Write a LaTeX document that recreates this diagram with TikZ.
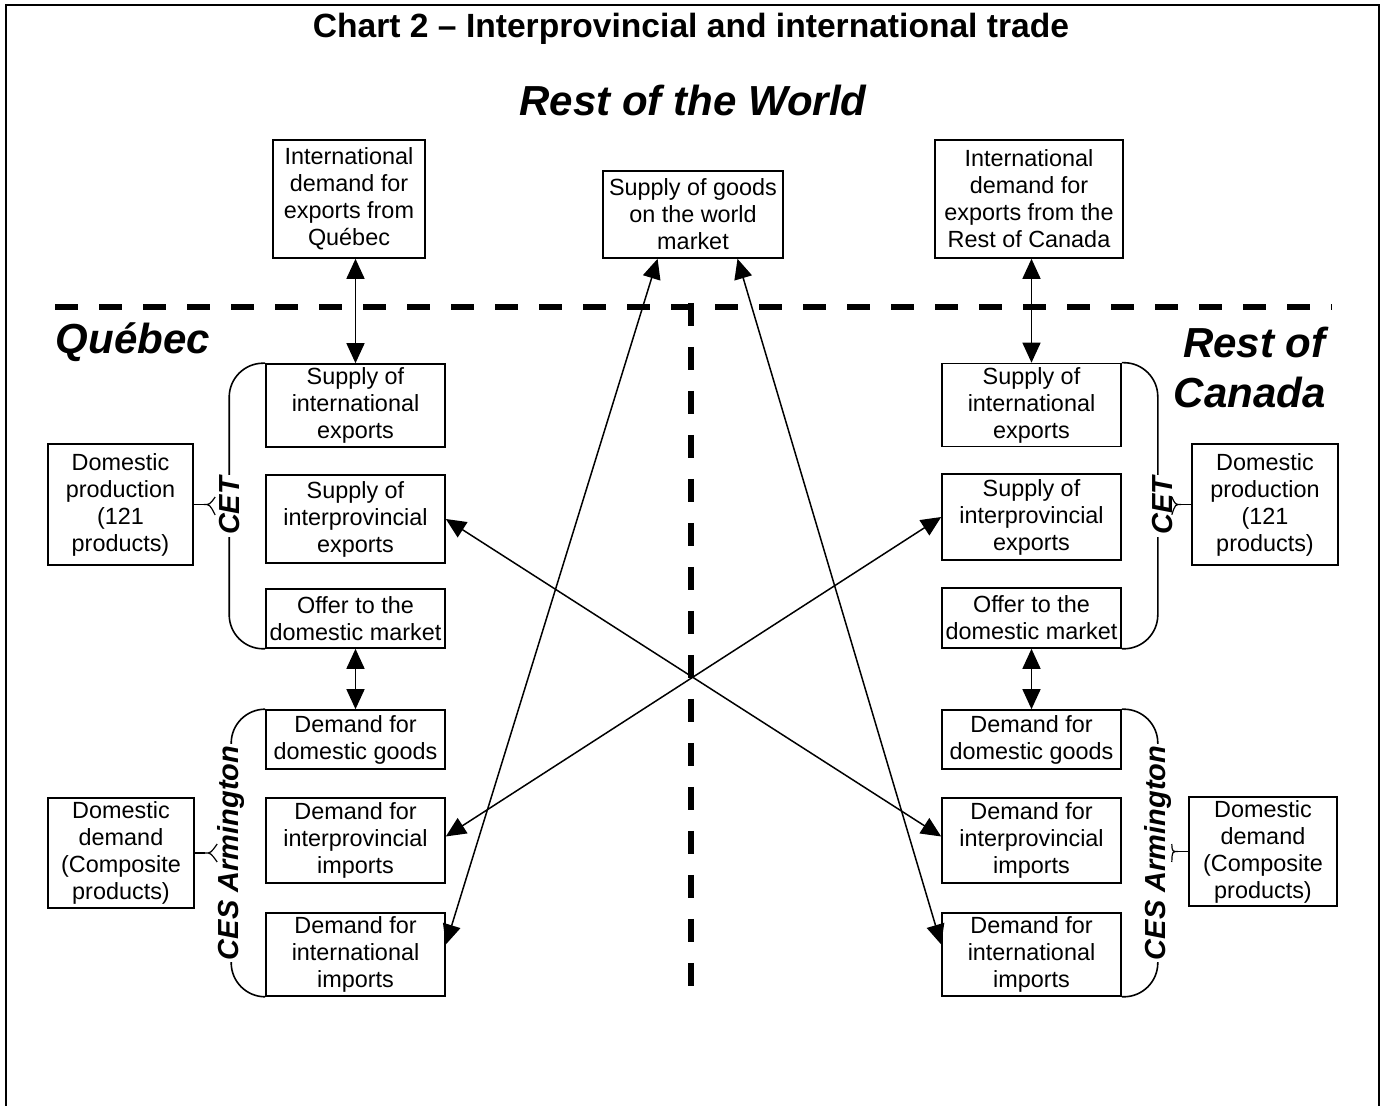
\documentclass[tikz,border=0pt]{standalone}
\usepackage{fontspec}
\setmainfont{Liberation Sans}
\usetikzlibrary{arrows.meta,calc}

\tikzset{
  box/.style={draw, line width=0.8pt, align=center, inner sep=0pt,
    font=\fontsize{11.7}{13.5}\selectfont},
  link/.style={{Triangle[length=10pt,width=9pt]}-{Triangle[length=10pt,width=9pt]}, line width=0.75pt},
  divider/.style={line width=3.2pt, dash pattern=on 11.5pt off 10.5pt},
  region/.style={font=\fontsize{21}{25}\selectfont\bfseries\itshape, inner sep=0pt},
  func/.style={font=\fontsize{14.5}{16}\selectfont\bfseries\itshape, rotate=90,
    inner sep=1pt, fill=white},
  brace/.style={line width=0.8pt, rounded corners=17pt},
  prong/.style={line width=0.6pt},
}

\begin{document}
\begin{tikzpicture}[x=0.5pt, y=-0.5pt]
  \useasboundingbox (0,0) rectangle (1383,1106);
  \draw[line width=1pt] (6,1112) |- (1379,5) -- (1379,1112);

  % titles
  \node[font=\fontsize{16.8}{20}\selectfont\bfseries] (title) at (691,29)
    {Chart 2 – Interprovincial and international trade};
  \node[region] (rotw) at (693,101) {Rest of the World};
  \node[region] (quebec) at (133,342) {Québec};
  \node[region, align=right, anchor=east] (roc) at (1326,368) {Rest of\\Canada};

  % rest of the world
  \node[box, minimum width=76pt, minimum height=59pt] (qIntlDem) at (349,199)
    {International\\demand for\\exports from\\Québec};
  \node[box, minimum width=90pt, minimum height=43.5pt] (world) at (693,214.5)
    {Supply of goods\\on the world\\market};
  \node[box, minimum width=94pt, minimum height=59pt] (rIntlDem) at (1029,199)
    {International\\demand for\\exports from the\\Rest of Canada};

  % Quebec
  \node[box, minimum width=89.5pt, minimum height=41.5pt] (qSupIntl) at (355.5,405.5)
    {Supply of\\international\\exports};
  \node[box, minimum width=89.5pt, minimum height=44pt] (qSupInter) at (355.5,519)
    {Supply of\\interprovincial\\exports};
  \node[box, minimum width=89.5pt, minimum height=29.5pt] (qOffer) at (355.5,618.5)
    {Offer to the\\domestic market};
  \node[box, minimum width=89.5pt, minimum height=29.5pt] (qDemDom) at (355.5,739.5)
    {Demand for\\domestic goods};
  \node[box, minimum width=89.5pt, minimum height=42.5pt] (qDemInter) at (355.5,840.5)
    {Demand for\\interprovincial\\imports};
  \node[box, minimum width=89.5pt, minimum height=41.5pt] (qDemIntl) at (355.5,954.5)
    {Demand for\\international\\imports};
  \node[box, minimum width=72.5pt, minimum height=60.5pt] (qProd) at (120.5,504.5)
    {Domestic\\production\\(121\\products)};
  \node[box, minimum width=73pt, minimum height=55pt] (qDemand) at (121,853)
    {Domestic\\demand\\(Composite\\products)};

  % Rest of Canada
  \node[box, minimum width=89.5pt, minimum height=41.5pt] (rSupIntl) at (1031.5,405)
    {Supply of\\international\\exports};
  \node[box, minimum width=89.5pt, minimum height=43pt] (rSupInter) at (1031.5,517)
    {Supply of\\interprovincial\\exports};
  \node[box, minimum width=89.5pt, minimum height=30pt] (rOffer) at (1031.5,618)
    {Offer to the\\domestic market};
  \node[box, minimum width=89.5pt, minimum height=29.5pt] (rDemDom) at (1031.5,739.5)
    {Demand for\\domestic goods};
  \node[box, minimum width=89.5pt, minimum height=42.5pt] (rDemInter) at (1031.5,840.5)
    {Demand for\\interprovincial\\imports};
  \node[box, minimum width=89.5pt, minimum height=41.5pt] (rDemIntl) at (1031.5,954.5)
    {Demand for\\international\\imports};
  \node[box, minimum width=73pt, minimum height=60.5pt] (rProd) at (1265,504.5)
    {Domestic\\production\\(121\\products)};
  \node[box, minimum width=74pt, minimum height=54.5pt] (rDemand) at (1263,851.5)
    {Domestic\\demand\\(Composite\\products)};

  % dividers
  \draw[divider] (55,307) -- (1332,307);
  \draw[divider] (691,303) -- (691,997);

  % CET and CES braces
  \coordinate (qCet) at ($(qSupIntl.north west)!0.5!(qOffer.south west)+(-36,0)$);
  \coordinate (qCes) at ($(qDemDom.north west)!0.5!(qDemIntl.south west)+(-34,0)$);
  \coordinate (rCet) at ($(rSupIntl.north east)!0.5!(rOffer.south east)+(36,0)$);
  \coordinate (rCes) at ($(rDemDom.north east)!0.5!(rDemIntl.south east)+(36,0)$);
  \draw[brace] (qSupIntl.north west) -| ($(qOffer.south west)+(-36,0)$) -- (qOffer.south west);
  \draw[brace] (qDemDom.north west) -| ($(qDemIntl.south west)+(-34,0)$) -- (qDemIntl.south west);
  \draw[brace] (rSupIntl.north east) -| ($(rOffer.south east)+(36,0)$) -- (rOffer.south east);
  \draw[brace] (rDemDom.north east) -| ($(rDemIntl.south east)+(36,0)$) -- (rDemIntl.south east);

  \node[func] (qCetLabel) at (qCet) {CET};
  \node[func] (qCesLabel) at (qCes) {CES Armington};
  \node[func] (rCetLabel) at ($(rCet)+(5,0)$) {CET};
  \node[func] (rCesLabel) at (rCes) {CES Armington};

  % forks
  \coordinate (qProdFork) at ($(qProd.east)+(10,0)$);
  \coordinate (qDemFork) at ($(qDemand.east)+(10,0)$);
  \coordinate (rProdFork) at ($(rProd.west)+(-10,0)$);
  \coordinate (rDemFork) at ($(rDemand.west)+(-10,0)$);
  \draw[line width=0.8pt] (qProd.east) -- (qProdFork);
  \draw[line width=0.8pt] (qDemand.east) -- (qDemFork);
  \draw[line width=0.8pt] (rProd.west) -- (rProdFork);
  \draw[line width=0.8pt] (rDemand.west) -- (rDemFork);
  \draw[prong] (qProdFork) .. controls +(6,0) .. ($(qCet)+(-14,-9)$)
    (qProdFork) .. controls +(6,0) .. ($(qCet)+(-14,9)$);
  \draw[prong] (qDemFork) .. controls +(6,0) .. ($(qCes)+(-14,-9)$)
    (qDemFork) .. controls +(6,0) .. ($(qCes)+(-14,9)$);
  \draw[prong] (rProdFork) .. controls +(-6,0) .. ($(rCet)+(14,-9)$)
    (rProdFork) .. controls +(-6,0) .. ($(rCet)+(14,9)$);
  \draw[prong] (rDemFork) .. controls +(-6,0) .. ($(rCes)+(14,-9)$)
    (rDemFork) .. controls +(-6,0) .. ($(rCes)+(14,9)$);

  % flows
  \draw[link] (qIntlDem.south -| qSupIntl.north) -- (qSupIntl.north);
  \draw[link] (rIntlDem.south -| rSupIntl.north) -- (rSupIntl.north);
  \draw[link] (qOffer.south) -- (qDemDom.north);
  \draw[link] (rOffer.south) -- (rDemDom.north);
  \draw[link] ($(world.south west)!0.305!(world.south east)$) -- ($(qDemIntl.east)+(0,-10)$);
  \draw[link] ($(world.south west)!0.745!(world.south east)$) -- ($(rDemIntl.west)+(0,-10)$);
  \draw[link] (qSupInter.east) -- ($(rDemInter.west)+(0,-4)$);
  \draw[link] (rSupInter.west) -- ($(qDemInter.east)+(0,-4)$);
\end{tikzpicture}
\end{document}
